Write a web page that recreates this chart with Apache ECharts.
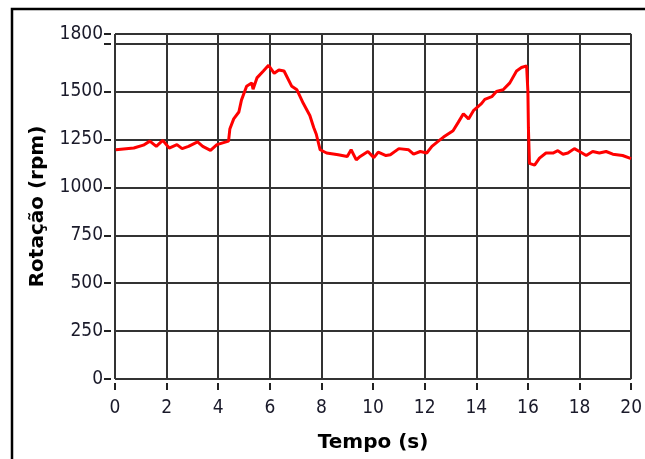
<!DOCTYPE html>
<html>
<head>
<meta charset="utf-8">
<script src="https://cdn.jsdelivr.net/npm/echarts@6/dist/echarts.min.js"></script>
<style>
html,body{margin:0;padding:0;background:#fff;}
#chart{width:645px;height:459px;}
</style>
</head>
<body>
<div id="chart"></div>
<script>
// Tempo (s)
const tempo = [0.03,0.73,1.1,1.35,1.6,1.85,2.1,2.4,2.6,2.85,3.2,3.4,3.7,3.95,4.4,4.45,4.6,4.8,4.9,5.1,5.3,5.35,5.5,5.75,5.95,6.17,6.35,6.55,6.85,7.05,7.3,7.55,7.7,7.8,7.95,8.2,8.65,9.0,9.15,9.35,9.5,9.8,10.03,10.2,10.5,10.67,11.0,11.38,11.57,11.83,12.08,12.28,12.53,12.73,13.1,13.3,13.5,13.7,13.9,14.2,14.33,14.6,14.78,15.04,15.3,15.56,15.75,15.95,16.0,16.02,16.06,16.26,16.45,16.7,16.97,17.16,17.36,17.55,17.8,18.0,18.26,18.51,18.77,19.03,19.29,19.67,20.0];
// Rotação (rpm)
const rotacao = [1196,1205,1220,1241,1214,1245,1205,1223,1202,1214,1237,1214,1193,1223,1241,1304,1357,1393,1455,1527,1545,1512,1571,1607,1637,1595,1612,1607,1527,1509,1437,1375,1312,1277,1196,1179,1170,1161,1196,1143,1161,1187,1155,1184,1166,1170,1202,1196,1173,1187,1179,1214,1241,1262,1295,1339,1384,1357,1402,1437,1459,1473,1500,1509,1545,1607,1625,1634,1500,1310,1125,1116,1152,1179,1179,1191,1173,1179,1202,1187,1166,1187,1179,1187,1173,1166,1150];
const yHiddenLabels = [1750];

const chart = echarts.init(document.getElementById('chart'), null, {renderer:'canvas'});
const labelFont = {fontFamily:'DejaVu Sans Condensed, DejaVu Sans', fontSize:19, color:'#1a1a2a'};
const axisCommon = {
  axisLine:{show:true, onZero:false, lineStyle:{color:'#fff', width:1}},
  axisTick:{show:true, inside:false, length:7, lineStyle:{color:'#222', width:2}},
  splitLine:{show:true, lineStyle:{color:'#333', width:2}},
  nameTextStyle:{fontFamily:'DejaVu Sans', fontWeight:'bold', fontSize:20, color:'#000'}
};
chart.setOption({
  animation:false,
  backgroundColor:'#fff',
  graphic:[{type:'rect', shape:{x:12,y:9,width:700,height:500}, style:{fill:'none', stroke:'#000', lineWidth:2.5}, z:100}],
  grid:{left:115, right:9, top:34, bottom:80},
  xAxis:Object.assign({
    type:'value', min:0, max:20, interval:2, offset:4,
    name:'Tempo (s)', nameLocation:'middle', nameGap:50,
    axisLabel:Object.assign({margin:16}, labelFont)
  }, axisCommon),
  yAxis:Object.assign({
    type:'value', min:0, max:1800, interval:250, offset:4,
    name:'Rotação (rpm)', nameLocation:'middle', nameGap:63,
    axisLabel:Object.assign({margin:8, formatter:v => yHiddenLabels.includes(v) ? '' : String(v)}, labelFont)
  }, axisCommon),
  series:[{
    type:'line', data:tempo.map((t,i)=>[t, rotacao[i]]),
    showSymbol:false, symbol:'none',
    lineStyle:{color:'#ff0000', width:3}, z:10
  }]
});
</script>
</body>
</html>
